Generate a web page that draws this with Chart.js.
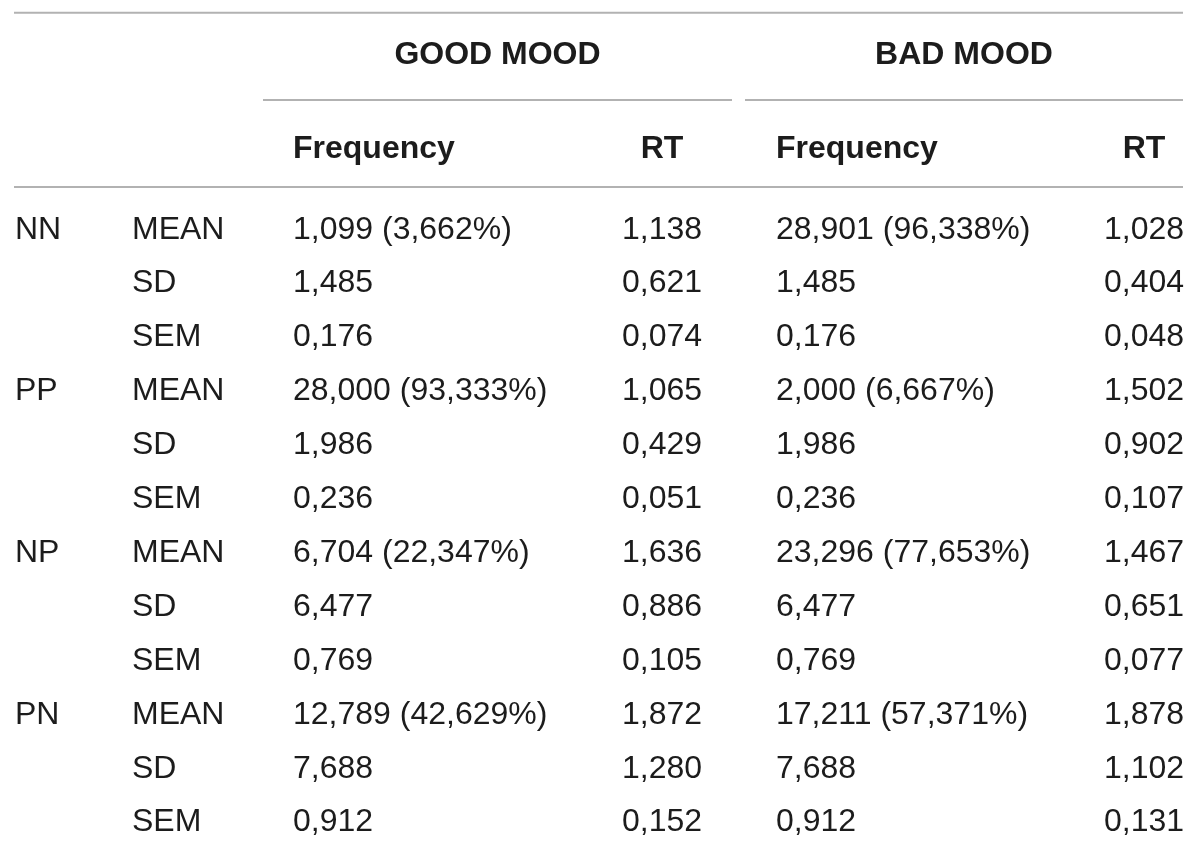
<!DOCTYPE html>
<html>
<head>
<meta charset="utf-8">
<script src="https://cdn.jsdelivr.net/npm/chart.js@4/dist/chart.umd.min.js"></script>
<style>
  html, body { margin: 0; padding: 0; background: #ffffff; }
  #wrap { position: relative; width: 1200px; height: 849px; }
</style>
</head>
<body>
<div id="wrap"><canvas id="c"></canvas></div>
<script>
// ---- data ----
const conditions = ['NN', 'PP', 'NP', 'PN'];
const statistics = ['MEAN', 'SD', 'SEM'];
const moods = ['GOOD MOOD', 'BAD MOOD'];
const measures = ['Frequency', 'RT'];

// per row (condition x statistic), in order NN MEAN, NN SD, NN SEM, PP MEAN, ...
const goodFrequency = [1.099, 1.485, 0.176, 28.000, 1.986, 0.236, 6.704, 6.477, 0.769, 12.789, 7.688, 0.912];
const goodPercent   = [3.662, 93.333, 22.347, 42.629];
const goodRT        = [1.138, 0.621, 0.074, 1.065, 0.429, 0.051, 1.636, 0.886, 0.105, 1.872, 1.280, 0.152];
const badFrequency  = [28.901, 1.485, 0.176, 2.000, 1.986, 0.236, 23.296, 6.477, 0.769, 17.211, 7.688, 0.912];
const badPercent    = [96.338, 6.667, 77.653, 57.371];
const badRT         = [1.028, 0.404, 0.048, 1.502, 0.902, 0.107, 1.467, 0.651, 0.077, 1.878, 1.102, 0.131];

// ---- layout (scale units) ----
const fmt = v => v.toFixed(3).replace('.', ',');
const colX = { cond: 15, stat: 132, f1: 293, rt1: 662, f2: 776, rt2: 1144 };
const groupSpan = [[263, 732], [745, 1183]];
const ruleY = { top: 12.7, group: 100, head: 187 };
const yGroup = 52.5, yHead = 146, yRow0 = 227, rowStep = 53.9;
const textColor = '#1c1c1c', ruleColor = '#b2b2b2';
const FONT = '"Liberation Sans", Arial, Helvetica, sans-serif';

const tablePlugin = {
  id: 'tableDraw',
  afterDraw(chart) {
    const ctx = chart.ctx;
    const xs = chart.scales.x, ys = chart.scales.y;
    const px = v => xs.getPixelForValue(v);
    const py = v => ys.getPixelForValue(v);
    ctx.save();
    // rules
    ctx.strokeStyle = ruleColor;
    ctx.lineWidth = 2;
    const hline = (x0, x1, y) => { ctx.beginPath(); ctx.moveTo(px(x0), py(y)); ctx.lineTo(px(x1), py(y)); ctx.stroke(); };
    hline(14, 1183, ruleY.top);
    groupSpan.forEach(s => hline(s[0], s[1], ruleY.group));
    hline(14, 1183, ruleY.head);

    ctx.fillStyle = textColor;
    ctx.textBaseline = 'alphabetic';
    const text = (s, x, yc, align, bold) => {
      ctx.font = (bold ? 'bold ' : '') + '32px ' + FONT;
      ctx.textAlign = align;
      ctx.fillText(s, px(x), py(yc) + 11.5);
    };
    // group headers
    moods.forEach((m, i) => text(m, (groupSpan[i][0] + groupSpan[i][1]) / 2, yGroup, 'center', true));
    // sub headers
    text(measures[0], colX.f1, yHead, 'left', true);
    text(measures[1], colX.rt1, yHead, 'center', true);
    text(measures[0], colX.f2, yHead, 'left', true);
    text(measures[1], colX.rt2, yHead, 'center', true);
    // body
    conditions.forEach((cnd, ci) => {
      statistics.forEach((st, si) => {
        const r = ci * statistics.length + si;
        const yc = yRow0 + r * rowStep;
        if (si === 0) text(cnd, colX.cond, yc, 'left', false);
        text(st, colX.stat, yc, 'left', false);
        let gf = fmt(goodFrequency[r]);
        let bf = fmt(badFrequency[r]);
        if (si === 0) {
          gf += ' (' + fmt(goodPercent[ci]) + '%)';
          bf += ' (' + fmt(badPercent[ci]) + '%)';
        }
        text(gf, colX.f1, yc, 'left', false);
        text(fmt(goodRT[r]), colX.rt1, yc, 'center', false);
        text(bf, colX.f2, yc, 'left', false);
        text(fmt(badRT[r]), colX.rt2, yc, 'center', false);
      });
    });
    ctx.restore();
  }
};

new Chart(document.getElementById('c'), {
  type: 'scatter',
  data: { datasets: [{ data: [], pointRadius: 0 }] },
  options: {
    responsive: true,
    maintainAspectRatio: false,
    animation: false,
    layout: { padding: 0 },
    plugins: { legend: { display: false }, tooltip: { enabled: false }, title: { display: false } },
    scales: {
      x: { type: 'linear', min: 0, max: 1200, display: false },
      y: { type: 'linear', min: 0, max: 849, reverse: true, display: false }
    }
  },
  plugins: [tablePlugin]
});
</script>
</body>
</html>
